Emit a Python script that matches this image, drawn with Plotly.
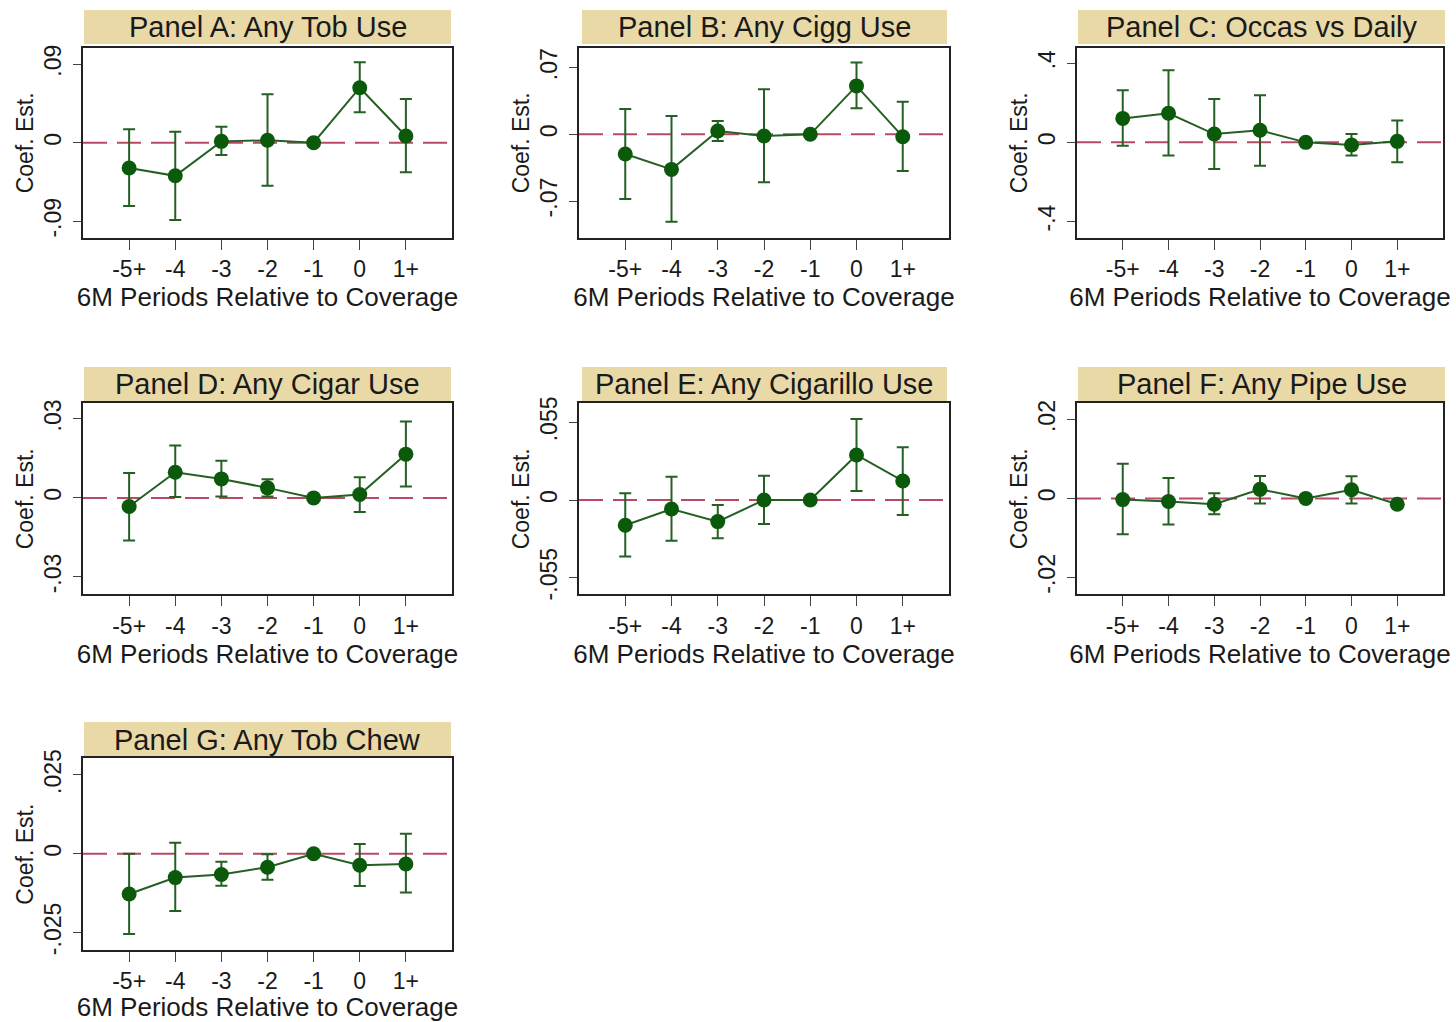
import plotly.graph_objects as go

# ---------------- data ----------------
categories = ["-5+", "-4", "-3", "-2", "-1", "0", "1+"]

panel_titles = [
    "Panel A: Any Tob Use",
    "Panel B: Any Cigg Use",
    "Panel C: Occas vs Daily",
    "Panel D: Any Cigar Use",
    "Panel E: Any Cigarillo Use",
    "Panel F: Any Pipe Use",
    "Panel G: Any Tob Chew",
]

A_est = [-0.029, -0.038, 0.0015, 0.0027, 0.0, 0.063, 0.0076]
A_lo = [-0.0726, -0.0887, -0.0141, -0.0493, 0.0, 0.0348, -0.034]
A_hi = [0.0153, 0.0126, 0.0183, 0.0554, 0.0, 0.0921, 0.0501]

B_est = [-0.0207, -0.0368, 0.0035, -0.0018, 0.0, 0.0508, -0.0025]
B_lo = [-0.0679, -0.0917, -0.007, -0.0504, 0.0, 0.0273, -0.0385]
B_hi = [0.0266, 0.0193, 0.014, 0.0473, 0.0, 0.0753, 0.0343]

C_est = [0.121, 0.147, 0.042, 0.061, 0.0, -0.0135, 0.005]
C_lo = [-0.017, -0.066, -0.135, -0.118, 0.0, -0.067, -0.101]
C_hi = [0.263, 0.364, 0.219, 0.238, 0.0, 0.042, 0.11]

D_est = [-0.0033, 0.0097, 0.0072, 0.0038, 0.0, 0.0013, 0.0166]
D_lo = [-0.0162, 0.0003, 0.0005, 0.0005, 0.0, -0.0054, 0.0043]
D_hi = [0.0094, 0.0199, 0.0141, 0.0071, 0.0, 0.0078, 0.029]

E_est = [-0.0179, -0.0064, -0.0153, 0.0, 0.0, 0.0319, 0.0135]
E_lo = [-0.0401, -0.0288, -0.0271, -0.017, 0.0, 0.0064, -0.0106]
E_hi = [0.0047, 0.0165, -0.0035, 0.0172, 0.0, 0.0574, 0.0373]

F_est = [-0.0003, -0.0008, -0.0015, 0.0023, 0.0, 0.0022, -0.0015]
F_lo = [-0.0091, -0.0066, -0.004, -0.0013, 0.0, -0.0013, -0.0024]
F_hi = [0.0088, 0.0052, 0.0013, 0.0057, 0.0, 0.0056, -0.0008]

G_est = [-0.0128, -0.0076, -0.0066, -0.0043, 0.0, -0.0037, -0.0033]
G_lo = [-0.0255, -0.0182, -0.0102, -0.0083, 0.0, -0.0103, -0.0123]
G_hi = [0.0, 0.0035, -0.0026, -0.0002, 0.0, 0.0031, 0.0063]

A_ticks = [-0.09, 0, 0.09]
A_ticktext = ["-.09", "0", ".09"]
B_ticks = [-0.07, 0, 0.07]
B_ticktext = ["-.07", "0", ".07"]
C_ticks = [-0.4, 0, 0.4]
C_ticktext = ["-.4", "0", ".4"]
D_ticks = [-0.03, 0, 0.03]
D_ticktext = ["-.03", "0", ".03"]
E_ticks = [-0.055, 0, 0.055]
E_ticktext = ["-.055", "0", ".055"]
F_ticks = [-0.02, 0, 0.02]
F_ticktext = ["-.02", "0", ".02"]
G_ticks = [-0.025, 0, 0.025]
G_ticktext = ["-.025", "0", ".025"]

A_range = [-0.1093, 0.1089]
B_range = [-0.1088, 0.0909]
C_range = [-0.483, 0.478]
D_range = [-0.0366, 0.0359]
E_range = [-0.0668, 0.0685]
F_range = [-0.0243, 0.0241]
G_range = [-0.0306, 0.0303]

x_title = "6M Periods Relative to Coverage"
y_title = "Coef. Est."

# ---------------- layout geometry ----------------
W, H = 1456, 1022
col_box = [(83, 452), (579, 949), (1077, 1443)]
row_box = [(47.7, 238), (403.3, 594.3), (758.3, 950)]
col_band = [(84, 451), (582, 947), (1078, 1445)]
row_band = [(10, 44), (367, 401), (722, 757)]

panels = [
    (A_est, A_lo, A_hi, A_ticks, A_ticktext, A_range),
    (B_est, B_lo, B_hi, B_ticks, B_ticktext, B_range),
    (C_est, C_lo, C_hi, C_ticks, C_ticktext, C_range),
    (D_est, D_lo, D_hi, D_ticks, D_ticktext, D_range),
    (E_est, E_lo, E_hi, E_ticks, E_ticktext, E_range),
    (F_est, F_lo, F_hi, F_ticks, F_ticktext, F_range),
    (G_est, G_lo, G_hi, G_ticks, G_ticktext, G_range),
]

FONT = "Liberation Sans, Arial, sans-serif"
TXT = "#1a1a1a"
GREEN_M = "#0b5a0b"
GREEN_L = "#245f24"
DASH = "#b84a66"
BAND = "#e9d9a7"

fig = go.Figure()
shapes = []
annotations = []
layout = {}

for i, (est, lo, hi, tv, tt, yr) in enumerate(panels):
    r, c = divmod(i, 3)
    n = i + 1
    xs = "" if n == 1 else str(n)
    xa, ya = "x" + xs, "y" + xs
    up = [h - e for h, e in zip(hi, est)]
    dn = [e - l for e, l in zip(est, lo)]
    fig.add_trace(go.Scatter(
        x=categories, y=est, xaxis=xa, yaxis=ya,
        mode="lines+markers",
        line=dict(color=GREEN_L, width=2),
        marker=dict(color=GREEN_M, size=15),
        error_y=dict(type="data", symmetric=False, array=up, arrayminus=dn,
                     color=GREEN_L, thickness=2, width=6),
        showlegend=False, hoverinfo="x+y",
    ))
    x0, x1 = col_box[c]
    y0, y1 = row_box[r]
    common = dict(showline=True, linecolor="#222222", linewidth=1.6, mirror=True,
                  ticks="outside", tickcolor="#444444", tickwidth=1.4,
                  showgrid=False, zeroline=False, automargin=False)
    layout["xaxis" + xs] = dict(
        common, domain=[x0 / W, x1 / W], anchor=ya,
        type="category", categoryorder="array", categoryarray=categories,
        range=[-1, 7], ticklen=10, ticklabelstandoff=0,
        tickfont=dict(family=FONT, size=23, color=TXT),
        title=dict(text=x_title, font=dict(family=FONT, size=26, color=TXT), standoff=0),
    )
    layout["yaxis" + xs] = dict(
        common, domain=[1 - y1 / H, 1 - y0 / H], anchor=xa,
        range=yr, tickvals=tv, ticktext=tt, tickangle=-90, ticklen=8,
        ticklabelstandoff=3,
        tickfont=dict(family=FONT, size=23, color=TXT),
        title=dict(text=y_title, font=dict(family=FONT, size=23, color=TXT), standoff=0),
    )
    shapes.append(dict(type="line", xref=xa + " domain", yref=ya,
                       x0=0, x1=1, y0=0, y1=0, layer="below",
                       line=dict(color=DASH, width=2, dash="24px,10px")))
    bx0, bx1 = col_band[c]
    by0, by1 = row_band[r]
    shapes.append(dict(type="rect", xref="paper", yref="paper",
                       x0=bx0 / W, x1=bx1 / W, y0=1 - by1 / H, y1=1 - by0 / H,
                       fillcolor=BAND, line=dict(width=0), layer="below"))
    annotations.append(dict(text=panel_titles[i], xref="paper", yref="paper",
                            x=(bx0 + bx1) / 2 / W, y=1 - (by0 + by1) / 2 / H,
                            xanchor="center", yanchor="middle", showarrow=False,
                            font=dict(family=FONT, size=29, color=TXT)))

fig.update_layout(
    width=W, height=H, margin=dict(l=0, r=0, t=0, b=0),
    paper_bgcolor="white", plot_bgcolor="white",
    shapes=shapes, annotations=annotations,
    font=dict(family=FONT, color=TXT),
    **layout,
)

fig.write_html("out.html")
